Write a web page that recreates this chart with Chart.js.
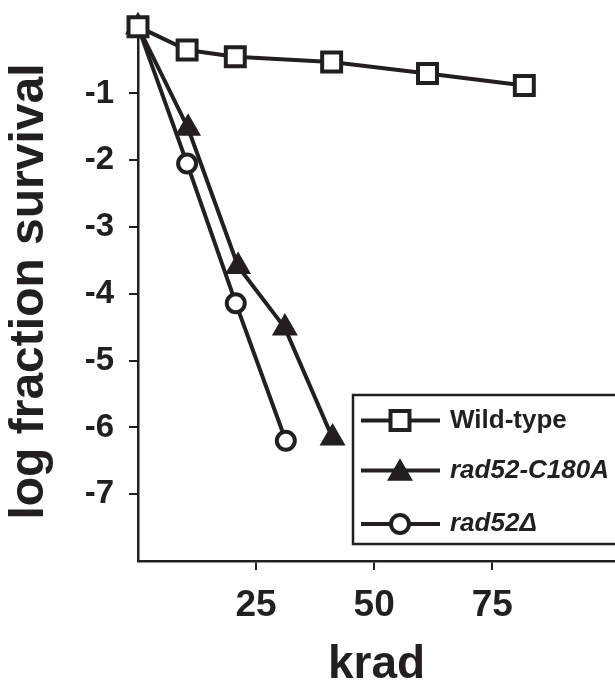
<!doctype html>
<html lang="en">
<head>
<meta charset="UTF-8" />
<title>log fraction survival vs krad</title>
<script src="https://cdn.jsdelivr.net/npm/chart.js"></script>
<style>
  html, body { margin: 0; padding: 0; background: #fff; }
</style>
</head>
<body>
<canvas id="survival-chart" width="615" height="686"></canvas>
<script>
// values
const seriesNames = ['Wild-type', 'rad52-C180A', 'rad52\u0394'];
const wildTypeDose = [0, 10.4, 20.6, 41, 61.3, 81.8];
const wildTypeLog = [0, -0.35, -0.45, -0.53, -0.70, -0.88];
const c180aDose = [0, 10.6, 21.2, 31.1, 41.2];
const c180aLog = [0, -1.52, -3.59, -4.51, -6.16];
const deltaDose = [0, 10.4, 20.7, 31.3];
const deltaLog = [0, -2.05, -4.14, -6.2];
const xTicks = [25, 50, 75];
const yTicks = [-1, -2, -3, -4, -5, -6, -7];

const ink = '#231f20';
const fontFamily = '"Liberation Sans", Arial, Helvetica, sans-serif';

function toPoints(xs, ys) {
  return xs.map((x, i) => ({ x: x, y: ys[i] }));
}

function series(label, xs, ys, style, radius, fill) {
  return {
    label: label,
    data: toPoints(xs, ys),
    borderColor: ink,
    borderWidth: 4,
    pointStyle: style,
    pointRadius: radius,
    pointHoverRadius: radius,
    pointBorderWidth: 4,
    pointBorderColor: ink,
    pointBackgroundColor: fill,
    tension: 0,
    fill: false,
    clip: false
  };
}

// boxed legend sitting inside the plot, lower right
const boxLegend = {
  id: 'boxLegend',
  afterDraw(chart) {
    const ctx = chart.ctx;
    const left = 353, top = 395, bottom = 544;
    ctx.save();
    ctx.fillStyle = '#fff';
    ctx.fillRect(left, top, chart.width - left + 5, bottom - top);
    ctx.strokeStyle = ink;
    ctx.lineWidth = 2.5;
    ctx.strokeRect(left, top, chart.width - left + 5, bottom - top);

    const rows = [420.5, 470.5, 524];
    chart.data.datasets.forEach((ds, i) => {
      const y = rows[i];
      ctx.strokeStyle = ink;
      ctx.lineWidth = 4;
      ctx.beginPath();
      ctx.moveTo(361, y);
      ctx.lineTo(440, y);
      ctx.stroke();

      const cx = 400, r = ds.pointRadius;
      ctx.fillStyle = ds.pointBackgroundColor;
      ctx.lineWidth = ds.pointBorderWidth;
      ctx.beginPath();
      if (ds.pointStyle === 'rect') {
        const s = r * Math.SQRT1_2;
        ctx.rect(cx - s, y - s, 2 * s, 2 * s);
      } else if (ds.pointStyle === 'triangle') {
        const tri = y + r * 0.25;
        ctx.moveTo(cx, tri - r);
        ctx.lineTo(cx + r * 0.866, tri + r / 2);
        ctx.lineTo(cx - r * 0.866, tri + r / 2);
        ctx.closePath();
      } else {
        ctx.arc(cx, y, r, 0, Math.PI * 2);
      }
      ctx.fill();
      ctx.stroke();

      ctx.fillStyle = ink;
      ctx.textBaseline = 'middle';
      ctx.textAlign = 'left';
      ctx.font = (i === 0 ? '' : 'italic ') + 'bold 26px ' + fontFamily;
      ctx.fillText(ds.label, 450, y);
    });
    ctx.restore();
  }
};

const ctx = document.getElementById('survival-chart').getContext('2d');
const survivalChart = new Chart(ctx, {
  type: 'line',
  data: {
    datasets: [
      series(seriesNames[0], wildTypeDose, wildTypeLog, 'rect', 13.4, '#fff'),
      series(seriesNames[1], c180aDose, c180aLog, 'triangle', 11, ink),
      series(seriesNames[2], deltaDose, deltaLog, 'circle', 9, '#fff')
    ]
  },
  options: {
    responsive: false,
    animation: false,
    layout: { autoPadding: false, padding: { top: 22, left: 0, right: 0, bottom: 0 } },
    plugins: {
      legend: { display: false },
      tooltip: { enabled: false }
    },
    scales: {
      x: {
        type: 'linear',
        position: 'bottom',
        min: 0,
        max: 101,
        afterBuildTicks: (scale) => { scale.ticks = xTicks.map(v => ({ value: v })); },
        afterFit: (scale) => {
          scale.height = 125;
          scale.paddingLeft = 0;
          scale.paddingRight = 0;
        },
        border: { color: ink, width: 2.5 },
        grid: { drawOnChartArea: false, color: ink, lineWidth: 2, tickLength: 9 },
        ticks: {
          color: ink,
          padding: 17,
          maxRotation: 0,
          font: { family: fontFamily, size: 37, weight: 'bold', lineHeight: 1 }
        },
        title: {
          display: true,
          text: 'krad',
          color: ink,
          padding: { top: 0, bottom: 0 },
          font: { family: fontFamily, size: 46, weight: 'bold', lineHeight: 0.88 }
        }
      },
      y: {
        type: 'linear',
        min: -8,
        max: 0.07,
        afterBuildTicks: (scale) => { scale.ticks = yTicks.map(v => ({ value: v })); },
        afterFit: (scale) => {
          scale.width = 138;
          scale.paddingTop = 0;
          scale.paddingBottom = 0;
        },
        border: { color: ink, width: 2.5 },
        grid: { drawOnChartArea: false, color: ink, lineWidth: 2, tickLength: 9 },
        ticks: {
          color: ink,
          padding: 15,
          callback: (value) => String(value),
          font: { family: fontFamily, size: 33, weight: 'bold', lineHeight: 1 }
        },
        title: {
          display: true,
          text: 'log fraction survival',
          color: ink,
          padding: { top: 6, bottom: 0 },
          font: { family: fontFamily, size: 48, weight: 'bold', lineHeight: 1 }
        }
      }
    }
  },
  plugins: [boxLegend]
});
</script>
</body>
</html>
